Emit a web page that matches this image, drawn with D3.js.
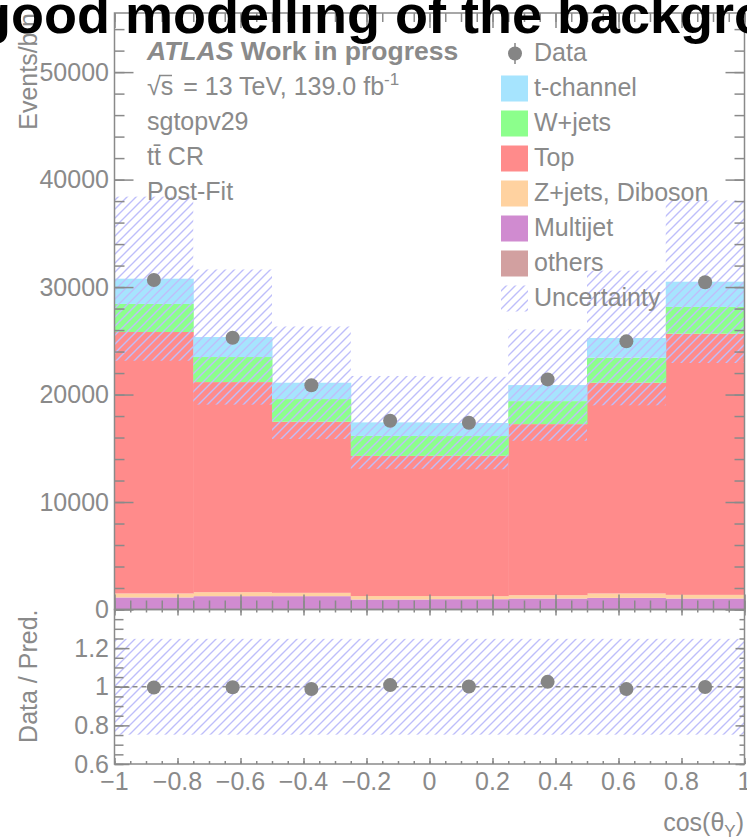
<!DOCTYPE html>
<html>
<head>
<meta charset="utf-8">
<script src="https://cdn.jsdelivr.net/npm/d3@7"></script>
<style>
  body { margin: 0; background: #fff; }
  svg { display: block; font-family: "Liberation Sans", Arial, Helvetica, sans-serif; }
</style>
</head>
<body>
<div id="chart"></div>
<script>
// bins in cos(theta_Y)
const binEdges = [-1, -0.75, -0.5, -0.25, 0, 0.25, 0.5, 0.75, 1];

// stacked predictions, bottom to top
const others   = [20, 20, 20, 20, 20, 20, 20, 20];
const multijet = [1100, 1220, 1220, 910, 940, 1000, 1060, 1000];
const zjets    = [370, 370, 310, 320, 280, 310, 410, 340];
const topBkg   = [24330, 19550, 15920, 13040, 13060, 15920, 19610, 24300];
const wjets    = [2610, 2330, 2110, 1860, 1840, 2140, 2330, 2490];
const tchannel = [2350, 1860, 1520, 1260, 1210, 1490, 1830, 2350];

const dataVals = [30660, 25290, 20860, 17560, 17370, 21410, 24950, 30450];
const relUnc   = [0.248, 0.248, 0.248, 0.248, 0.248, 0.248, 0.248, 0.248];

const yTicks = [0, 10000, 20000, 30000, 40000, 50000];
const ratioTicks = [0.6, 0.8, 1, 1.2];
const xTicks = [-1, -0.8, -0.6, -0.4, -0.2, 0, 0.2, 0.4, 0.6, 0.8, 1];

const keys = ["others", "multijet", "zjets", "top", "wjets", "tchannel"];
const colors = {
  others: "rgb(210,160,160)",
  multijet: "rgb(208,139,208)",
  zjets: "rgb(255,210,160)",
  top: "rgb(255,139,139)",
  wjets: "rgb(140,255,140)",
  tchannel: "rgb(166,228,254)"
};
const legendItems = [
  { key: "tchannel", label: "t-channel" },
  { key: "wjets", label: "W+jets" },
  { key: "top", label: "Top" },
  { key: "zjets", label: "Z+jets, Diboson" },
  { key: "multijet", label: "Multijet" },
  { key: "others", label: "others" },
  { key: "unc", label: "Uncertainty" }
];

const grey = "#8a8a8a";
const width = 747, height = 840;

const rows = dataVals.map((d, i) => ({
  i: i, x0: binEdges[i], x1: binEdges[i + 1],
  others: others[i], multijet: multijet[i], zjets: zjets[i],
  top: topBkg[i], wjets: wjets[i], tchannel: tchannel[i]
}));
const stacked = d3.stack().keys(keys)(rows);
const totals = rows.map(r => keys.reduce((s, k) => s + r[k], 0));

const x = d3.scaleLinear().domain([-1, 1]).range([114.5, 744.5]);
const y = d3.scaleLinear().domain([0, 55500]).range([609.5, 13]);
const yr = d3.scaleLinear().domain([0.6, 1.4]).range([764, 609.5]);

const svg = d3.select("#chart").append("svg")
  .attr("width", width)
  .attr("height", height);

const defs = svg.append("defs");
const pat = defs.append("pattern")
  .attr("id", "hatch")
  .attr("patternUnits", "userSpaceOnUse")
  .attr("width", 9)
  .attr("height", 9);
pat.append("path")
  .attr("d", "M-1,1 l2,-2 M0,9 l9,-9 M8,10 l2,-2")
  .attr("stroke", "rgb(190,190,250)")
  .attr("stroke-width", 1.4);

// stacked histogram
svg.append("g").selectAll("g")
  .data(stacked)
  .enter().append("g")
  .attr("fill", s => colors[s.key])
  .selectAll("rect")
  .data(s => s)
  .enter().append("rect")
  .attr("x", d => x(d.data.x0))
  .attr("width", d => x(d.data.x1) - x(d.data.x0) + 0.5)
  .attr("y", d => y(d[1]))
  .attr("height", d => y(d[0]) - y(d[1]));

// uncertainty band
svg.append("g").selectAll("rect")
  .data(rows)
  .enter().append("rect")
  .attr("x", d => x(d.x0))
  .attr("width", d => x(d.x1) - x(d.x0))
  .attr("y", d => Math.max(13, y(totals[d.i] * (1 + relUnc[d.i]))))
  .attr("height", d => y(totals[d.i] * (1 - relUnc[d.i])) - Math.max(13, y(totals[d.i] * (1 + relUnc[d.i]))))
  .attr("fill", "url(#hatch)");

// data points
svg.append("g").selectAll("circle")
  .data(rows)
  .enter().append("circle")
  .attr("cx", d => x((d.x0 + d.x1) / 2))
  .attr("cy", d => y(dataVals[d.i]))
  .attr("r", 7)
  .attr("fill", "#858585");

// ratio panel
svg.append("g").selectAll("rect")
  .data(rows)
  .enter().append("rect")
  .attr("x", d => x(d.x0))
  .attr("width", d => x(d.x1) - x(d.x0))
  .attr("y", d => yr(1 + relUnc[d.i]))
  .attr("height", d => yr(1 - relUnc[d.i]) - yr(1 + relUnc[d.i]))
  .attr("fill", "url(#hatch)");

svg.append("line")
  .attr("x1", x(-1)).attr("x2", x(1))
  .attr("y1", yr(1)).attr("y2", yr(1))
  .attr("stroke", grey)
  .attr("stroke-width", 1.5)
  .attr("stroke-dasharray", "5,4");

svg.append("g").selectAll("circle")
  .data(rows)
  .enter().append("circle")
  .attr("cx", d => x((d.x0 + d.x1) / 2))
  .attr("cy", d => yr(dataVals[d.i] / totals[d.i]))
  .attr("r", 7)
  .attr("fill", "#858585");

// axes: ticks only, frames drawn separately
function ticks(axis, tr, vals, size) {
  const g = svg.append("g")
    .attr("transform", tr)
    .call(axis.tickValues(vals).tickSize(size).tickSizeOuter(0).tickFormat(""));
  g.select(".domain").remove();
  g.selectAll("line").attr("stroke", grey).attr("stroke-width", 1.5);
}
const yMinor = d3.range(0, 55500, 2000);
const xMinor = d3.range(-1, 1.0001, 0.05);
const rMinor = d3.range(0.6, 1.40001, 0.05);

ticks(d3.axisLeft(y), `translate(${x(-1)},0)`, yMinor, -10);
ticks(d3.axisLeft(y), `translate(${x(-1)},0)`, yTicks, -19);
ticks(d3.axisRight(y), `translate(${x(1)},0)`, yMinor, -10);
ticks(d3.axisRight(y), `translate(${x(1)},0)`, yTicks, -19);
ticks(d3.axisBottom(x), `translate(0,${y(0)})`, xMinor, -9);
ticks(d3.axisBottom(x), `translate(0,${y(0)})`, xTicks, -15);
ticks(d3.axisTop(x), `translate(0,13)`, xMinor, -9);
ticks(d3.axisTop(x), `translate(0,13)`, xTicks, -15);

ticks(d3.axisLeft(yr), `translate(${x(-1)},0)`, rMinor, -9);
ticks(d3.axisLeft(yr), `translate(${x(-1)},0)`, ratioTicks, -15);
ticks(d3.axisRight(yr), `translate(${x(1)},0)`, rMinor, -5);
ticks(d3.axisRight(yr), `translate(${x(1)},0)`, ratioTicks, -9);
ticks(d3.axisBottom(x), `translate(0,${yr(0.6)})`, xMinor, -3);
ticks(d3.axisBottom(x), `translate(0,${yr(0.6)})`, xTicks, -6);
ticks(d3.axisTop(x), `translate(0,${yr(1.4)})`, xMinor, -3);
ticks(d3.axisTop(x), `translate(0,${yr(1.4)})`, xTicks, -6);

svg.append("rect")
  .attr("x", x(-1)).attr("y", 13)
  .attr("width", x(1) - x(-1)).attr("height", y(0) - 13)
  .attr("fill", "none").attr("stroke", grey).attr("stroke-width", 1.5);
svg.append("rect")
  .attr("x", x(-1)).attr("y", yr(1.4))
  .attr("width", x(1) - x(-1)).attr("height", yr(0.6) - yr(1.4))
  .attr("fill", "none").attr("stroke", grey).attr("stroke-width", 1.5);

// tick labels
const fs = 25;
svg.append("g").selectAll("text")
  .data(yTicks)
  .enter().append("text")
  .attr("x", 109)
  .attr("y", d => y(d) + 8.5)
  .attr("text-anchor", "end")
  .attr("font-size", fs)
  .attr("fill", grey)
  .text(d3.format("d"));

svg.append("g").selectAll("text")
  .data(ratioTicks)
  .enter().append("text")
  .attr("x", 109)
  .attr("y", d => yr(d) + 8.5)
  .attr("text-anchor", "end")
  .attr("font-size", fs)
  .attr("fill", grey)
  .text(d3.format("~g"));

svg.append("g").selectAll("text")
  .data(xTicks)
  .enter().append("text")
  .attr("x", d => x(d))
  .attr("y", 790)
  .attr("text-anchor", "middle")
  .attr("font-size", fs)
  .attr("fill", grey)
  .text(d3.format("~g"));

// axis titles
svg.append("text")
  .attr("transform", "translate(36.5,13) rotate(-90)")
  .attr("text-anchor", "end")
  .attr("font-size", fs)
  .attr("fill", grey)
  .text("Events/bin");

svg.append("text")
  .attr("transform", `translate(36.5,${yr(1.4)}) rotate(-90)`)
  .attr("text-anchor", "end")
  .attr("font-size", fs)
  .attr("fill", grey)
  .text("Data / Pred.");

const xt = svg.append("text")
  .attr("x", 744)
  .attr("y", 831)
  .attr("text-anchor", "end")
  .attr("font-size", fs)
  .attr("fill", grey);
xt.append("tspan").text("cos(θ");
xt.append("tspan").attr("font-size", 17).attr("dy", 6).text("Y");
xt.append("tspan").attr("dy", -6).text(")");

// labels block
const lab = svg.append("g").attr("fill", grey).attr("font-size", fs);
const atl = lab.append("text").attr("x", 147).attr("y", 60)
  .attr("font-weight", "bold").attr("font-size", 26.5);
atl.append("tspan").attr("font-style", "italic").text("ATLAS");
atl.append("tspan").text(" Work in progress");
const lum = lab.append("text").attr("x", 147).attr("y", 95);
lum.append("tspan").text("√s");
lum.append("tspan").attr("dx", 3).text(" = 13 TeV, 139.0 fb");
lum.append("tspan").attr("font-size", 17).attr("dy", -10).text("-1");
lab.append("line")
  .attr("x1", 159).attr("x2", 172).attr("y1", 75.5).attr("y2", 75.5)
  .attr("stroke", grey).attr("stroke-width", 1.5);
lab.append("text").attr("x", 147).attr("y", 130).text("sgtopv29");
lab.append("text").attr("x", 147).attr("y", 165).text("tt\u0304 CR");
lab.append("text").attr("x", 147).attr("y", 200).text("Post-Fit");

// legend
const leg = svg.append("g").attr("font-size", fs).attr("fill", grey);
leg.append("line")
  .attr("x1", 515).attr("x2", 515).attr("y1", 43).attr("y2", 64)
  .attr("stroke", "#858585").attr("stroke-width", 1.5);
leg.append("circle").attr("cx", 515).attr("cy", 53.5).attr("r", 7).attr("fill", "#858585");
leg.append("text").attr("x", 534).attr("y", 61).text("Data");

const li = leg.selectAll("g.item")
  .data(legendItems)
  .enter().append("g")
  .attr("class", "item")
  .attr("transform", (d, i) => `translate(0,${96 + 35 * i})`);
li.append("rect")
  .attr("x", 501).attr("y", -20.5)
  .attr("width", 27).attr("height", 26)
  .attr("fill", d => d.key === "unc" ? "url(#hatch)" : colors[d.key]);
li.append("text").attr("x", 534).attr("y", 0).text(d => d.label);

// title (overflows the canvas on both sides)
svg.append("text")
  .attr("x", -22)
  .attr("y", 33)
  .attr("font-size", 54)
  .attr("font-weight", "bold")
  .attr("fill", "#000")
  .text("good modelling of the background");
</script>
</body>
</html>
